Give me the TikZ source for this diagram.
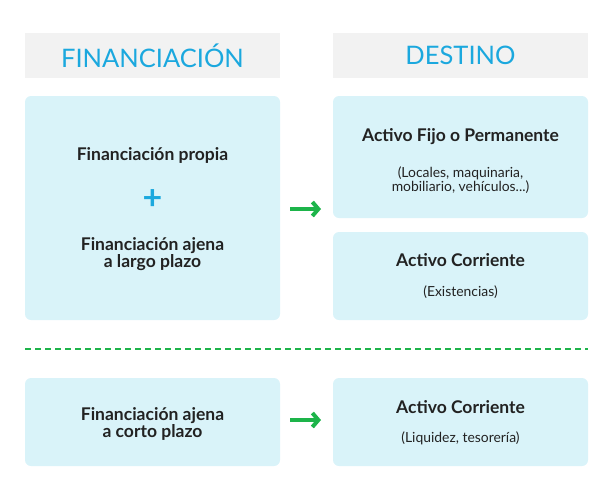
\documentclass[tikz,border=0pt]{standalone}
\usepackage{fontspec}
\setmainfont{Lato}
\usetikzlibrary{positioning,arrows.meta}
\definecolor{hdrgray}{HTML}{F2F2F2}
\definecolor{boxcyan}{HTML}{D9F3F9}
\definecolor{titlecyan}{HTML}{1BA8DE}
\definecolor{arrowgreen}{HTML}{1DB44A}
\definecolor{txtdark}{HTML}{222222}
\tikzset{hdr/.style={fill=hdrgray,minimum width=255pt,minimum height=45pt,inner sep=0pt,
                     text=titlecyan,font=\fontsize{25.5}{30}\selectfont},
         blk/.style={fill=boxcyan,rounded corners=6pt,minimum width=255pt,inner sep=0pt,
                     text=txtdark,align=center},
         go/.style={draw=arrowgreen,line width=4pt,-{Straight Barb[length=6pt,width=14pt]}}}
\newcommand{\ttl}[1]{{\bfseries\fontsize{17.5}{24}\selectfont #1}}
\newcommand{\sub}[1]{{\fontsize{13.9}{20}\selectfont #1}}
\begin{document}
\begin{tikzpicture}[x=1pt,y=-1pt]
  \useasboundingbox (0,0) rectangle (613,499);
  % headers
  \node[hdr] (fin) at (152.5,55.5) {FINANCIACIÓN};
  \node[hdr] (des) at (460.5,55.5) {DESTINO};
  % upper blocks
  \node[blk,minimum height=224pt] (propia) at (152.5,208) {};
  \node[text=txtdark] (p1) at (152.5,155) {\ttl{Financiación propia}};
  \node[text=titlecyan,font=\bfseries\fontsize{34}{34}\selectfont] (plus) at (152.5,200) {+};
  \node[text=txtdark,align=center] (p2) at (152.5,254) {\ttl{Financiación ajena}\\\ttl{a largo plazo}};
  \node[blk,minimum height=122pt] (fijo) at (460.5,157) {};
  \node[text=txtdark] (f1) at (460.5,137) {\ttl{Activo Fijo o Permanente}};
  \node[text=txtdark,align=center] (f2) at (460.5,180) {\sub{(Locales, maquinaria,}\\\sub{mobiliario, vehículos...)}};
  \node[blk,minimum height=88pt] (corr) at (460.5,276) {};
  \node[text=txtdark] (c1) at (460.5,260) {\ttl{Activo Corriente}};
  \node[text=txtdark] (c2) at (460.5,292) {\sub{(Existencias)}};
  % separator
  \coordinate (sepl) at (25,349);
  \coordinate (sepr) at (588,349);
  \draw[arrowgreen,line width=1.5pt,dash pattern=on 6pt off 4pt] (sepl) -- (sepr);
  % lower blocks
  \node[blk,minimum height=88pt] (corto) at (152.5,422) {};
  \node[text=txtdark,align=center] (k1) at (152.5,424) {\ttl{Financiación ajena}\\\ttl{a corto plazo}};
  \node[blk,minimum height=88pt] (liq) at (460.5,422) {};
  \node[text=txtdark] (l1) at (460.5,407) {\ttl{Activo Corriente}};
  \node[text=txtdark] (l2) at (460.5,438) {\sub{(Liquidez, tesorería)}};
  % arrows
  \coordinate (a1s) at (290,209);
  \coordinate (a1e) at (321,209);
  \coordinate (a2s) at (290,420);
  \coordinate (a2e) at (321,420);
  \draw[go] (a1s) -- (a1e);
  \draw[go] (a2s) -- (a2e);
\end{tikzpicture}
\end{document}
